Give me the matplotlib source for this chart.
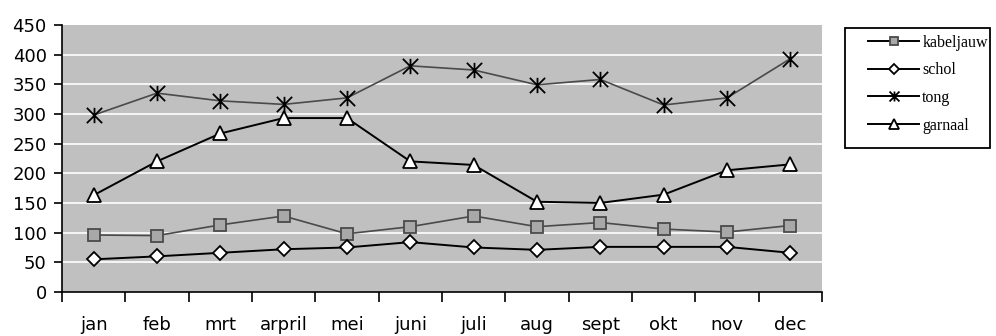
import matplotlib.pyplot as plt
from matplotlib.path import Path
from matplotlib.patches import Rectangle

months = ['jan', 'feb', 'mrt', 'arpril', 'mei', 'juni', 'juli', 'aug', 'sept', 'okt', 'nov', 'dec']
kabeljauw = [96, 95, 113, 128, 98, 110, 128, 110, 117, 106, 101, 112]
schol = [55, 60, 66, 72, 75, 84, 75, 71, 76, 76, 76, 66]
tong = [298, 335, 322, 316, 327, 381, 374, 349, 358, 315, 327, 393]
garnaal = [163, 220, 267, 293, 293, 220, 214, 152, 150, 164, 205, 215]

# excel style star: X plus a vertical bar
star = Path([(0, -1), (0, 1), (-1, -1), (1, 1), (-1, 1), (1, -1)],
            [Path.MOVETO, Path.LINETO, Path.MOVETO, Path.LINETO, Path.MOVETO, Path.LINETO])

fig = plt.figure(figsize=(9.96, 3.36), dpi=100)
ax = fig.add_axes([0.0622, 0.131, 0.7631, 0.795])
ax.set_facecolor('#c0c0c0')

x = [i + 0.5 for i in range(len(months))]

ax.plot(x, kabeljauw, color='#4a4a4a', lw=1.2, marker='s', ms=8.5,
        mfc='#a8a8a8', mec='#4a4a4a', mew=1.3, label='kabeljauw', zorder=3)
ax.plot(x, schol, color='black', lw=1.4, marker='D', ms=7.5,
        mfc='white', mec='black', mew=1.3, label='schol', zorder=3)
ax.plot(x, tong, color='#4a4a4a', lw=1.2, marker=star, ms=11,
        mec='black', mew=1.3, label='tong', zorder=3)
ax.plot(x, garnaal, color='black', lw=1.4, marker='^', ms=10,
        mfc='white', mec='black', mew=1.3, label='garnaal', zorder=3)

ax.set_xlim(0, 12)
ax.set_ylim(0, 450)
ax.set_yticks(range(0, 451, 50))
for v in range(50, 450, 50):
    ax.axhline(v, color='white', lw=1.2, zorder=1)

ax.set_xticks(range(0, 13))
ax.set_xticklabels([])
ax.set_xticks(x, minor=True)
ax.set_xticklabels(months, minor=True, fontsize=13, family='DejaVu Sans')
ax.tick_params(axis='x', which='major', length=7, width=1.2, direction='out')
ax.tick_params(axis='x', which='minor', length=0, pad=17)
ax.tick_params(axis='y', length=6, width=1.2, pad=5, labelsize=13)
for lab in ax.get_yticklabels():
    lab.set_family('DejaVu Sans')

for s in ['top', 'right']:
    ax.spines[s].set_visible(False)
ax.spines['left'].set_linewidth(1.2)
ax.spines['bottom'].set_linewidth(1.2)

# legend frame drawn separately so the inner padding can match
fig.patches.append(Rectangle((845 / 996, 1 - 148 / 336), 145 / 996, 120 / 336,
                             transform=fig.transFigure, fill=False,
                             edgecolor='black', lw=1.3))
leg = ax.legend(loc='upper left', bbox_to_anchor=(868 / 996, 1 - 35 / 336),
                bbox_transform=fig.transFigure, frameon=False,
                handlelength=3.2, handletextpad=0.2, labelspacing=0.72,
                borderpad=0, borderaxespad=0,
                prop={'family': 'Liberation Serif', 'size': 11.5})
for h in leg.legend_handles:
    h.set_markersize(h.get_markersize() * 0.65)
    h.set_color('black')
    h.set_linewidth(1.4)

fig.savefig('out.png', dpi=100)
